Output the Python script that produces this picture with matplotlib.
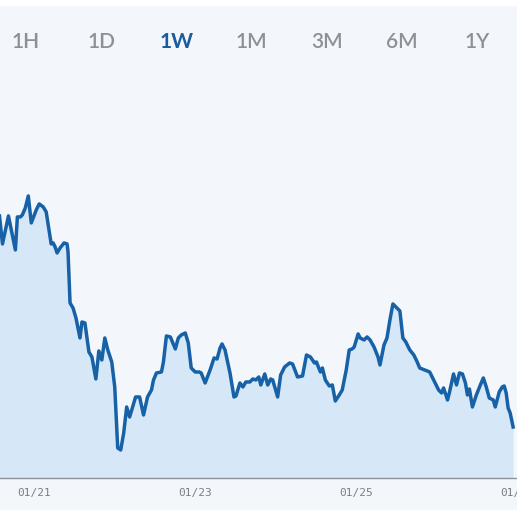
import matplotlib
matplotlib.use("Agg")
import matplotlib.pyplot as plt
import numpy as np

# price history, hours from 01/21 00:00
hours = [-10.37, -9.48, -7.70, -5.63, -5.04, -4.15, -3.56, -2.67, -1.78, -0.89,
         0.59, 1.48, 2.67, 3.56, 4.15, 5.04, 5.63, 6.22, 6.81, 7.70,
         8.89, 9.78, 10.07, 10.67, 11.56, 12.44, 13.63, 14.22, 15.11, 16.30,
         17.19, 18.37, 19.26, 20.15, 21.04, 21.93, 23.11, 24.00, 24.89, 25.78,
         26.67, 27.56, 28.44, 30.22, 31.41, 32.59, 33.78, 34.96, 35.56, 36.44,
         37.93, 38.52, 39.41, 40.59, 42.07, 42.96, 43.85, 45.04, 45.93, 46.81,
         48.00, 49.19, 49.78, 50.96, 52.44, 53.63, 54.52, 55.41, 56.00, 56.89,
         58.37, 59.56, 60.15, 61.33, 62.22, 63.11, 64.30, 65.19, 66.07, 66.96,
         67.56, 68.74, 69.63, 70.52, 71.11, 72.59, 73.48, 74.67, 76.15, 77.04,
         78.52, 80.00, 81.19, 82.37, 83.56, 84.15, 85.33, 85.93, 86.81, 88.00,
         88.89, 89.78, 90.96, 91.85, 93.04, 93.93, 94.81, 95.41, 96.59, 97.19,
         98.37, 99.26, 100.15, 101.33, 102.52, 103.11, 104.30, 105.19, 106.07, 106.96,
         107.85, 109.04, 109.93, 110.81, 112.00, 113.19, 114.07, 114.96, 116.44, 117.93,
         119.11, 120.59, 121.48, 122.07, 123.26, 123.85, 125.04, 125.93, 126.81, 127.70,
         128.59, 129.19, 129.78, 130.67, 131.85, 133.04, 133.93, 134.81, 135.70, 136.89,
         137.48, 138.67, 139.56, 140.15, 140.74, 141.33, 141.93, 142.81]
prices = [262, 234, 262, 228, 261, 261, 263, 270, 282, 255,
          268, 274, 271, 266, 253, 234, 235, 231, 225, 230,
          235, 234, 226, 175, 170, 160, 140, 156, 155, 126,
          121, 99, 127, 118, 140, 128, 116, 91, 30, 28,
          45, 71, 61, 81, 81, 63, 81, 88, 98, 105,
          106, 116, 142, 141, 129, 140, 143, 145, 135, 110,
          106, 106, 105, 95, 108, 120, 119, 130, 134, 128,
          105, 81, 82, 95, 91, 96, 96, 99, 98, 101,
          93, 104, 93, 99, 98, 81, 103, 111, 115, 114,
          101, 102, 123, 121, 115, 116, 106, 110, 98, 92,
          93, 77, 83, 88, 108, 128, 129, 131, 144, 140,
          138, 141, 138, 131, 121, 113, 133, 140, 158, 174,
          171, 167, 140, 136, 128, 123, 117, 110, 108, 106,
          98, 88, 85, 90, 78, 86, 104, 93, 105, 104,
          95, 83, 89, 71, 83, 93, 100, 91, 80, 78,
          71, 86, 91, 92, 85, 70, 65, 51]

ranges = ["1H", "1D", "1W", "1M", "3M", "6M", "1Y"]
active_range = "1W"
tick_hours = [0, 48, 96, 144]
tick_labels = ["01/21", "01/23", "01/25", "01/27"]

BG = "#f3f6fa"
LINE = "#1761a6"
FILL = "#d6e8f7"

W, H = 517, 510
fig = plt.figure(figsize=(W / 100 + 0.001, H / 100 + 0.001), dpi=100, facecolor=BG)

# white strip at the very top
fig.patches.append(plt.Rectangle((0, 1 - 5 / H), 1, 5 / H, transform=fig.transFigure,
                                 color="white", zorder=0))

ax = fig.add_axes([0, 32 / H, 1, 398 / H])
ax.set_facecolor("none")
ax.fill_between(hours, prices, 0, color=FILL, lw=0)
ax.plot(hours, prices, color=LINE, lw=2.5, solid_joinstyle="round")
ax.set_xlim(hours[0] + 0.15, hours[-1] - 0.3)
ax.set_ylim(0, 398)

for s in ["top", "left", "right"]:
    ax.spines[s].set_visible(False)
ax.spines["bottom"].set_color("#8c9299")
ax.spines["bottom"].set_linewidth(1)
ax.set_yticks([])
ax.set_xticks(tick_hours, tick_labels, family="DejaVu Sans Mono")
ax.tick_params(axis="x", length=0, pad=7, labelsize=8, labelcolor="#7a7f86")

# range selector buttons
btn_x = np.arange(len(ranges)) * 75.2 + 26
for i, r in enumerate(ranges):
    on = r == active_range
    fig.text(btn_x[i] / W, 1 - 42 / H, r, ha="center", va="center",
             fontsize=15, family="Lato",
             fontweight="bold" if on else "semibold",
             color="#1a5c9c" if on else "#8d9196")

fig.savefig("out.png", dpi=100, facecolor=BG)
